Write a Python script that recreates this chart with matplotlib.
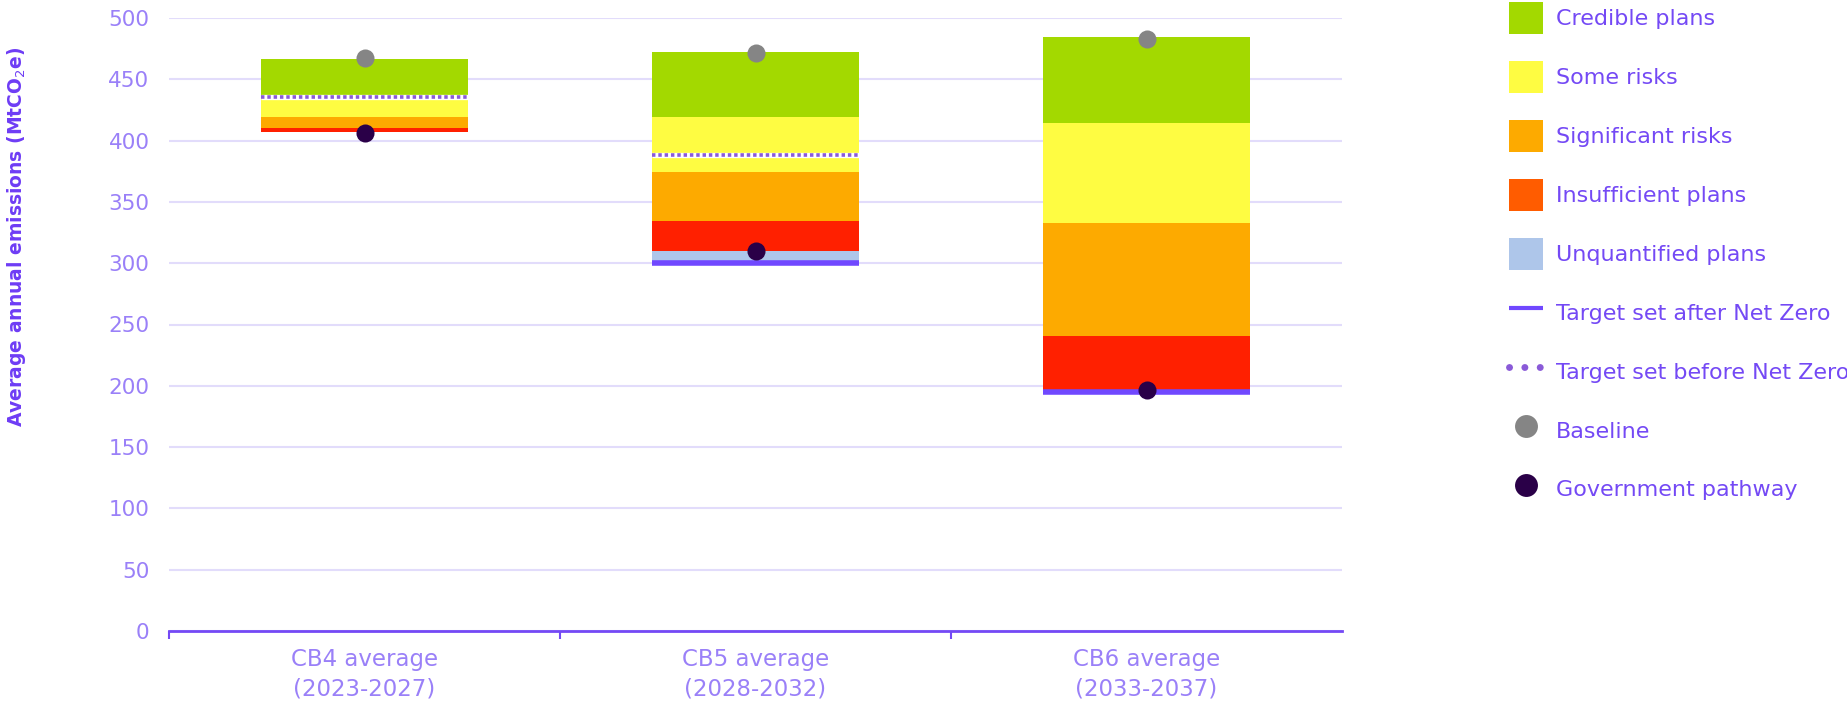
import numpy as np
import matplotlib
matplotlib.use("Agg")
import matplotlib.pyplot as plt
from matplotlib.patches import Patch
from matplotlib.lines import Line2D

# ---------------- data ----------------
categories = ["CB4 average\n(2023-2027)", "CB5 average\n(2028-2032)", "CB6 average\n(2033-2037)"]
stack_base = [406.8, 300.0, 195.0]
unquantified = [0.0, 9.8, 0.0]
insufficient = [3.3, 24.3, 45.7]
significant = [9.1, 40.3, 91.9]
some_risks = [17.0, 45.0, 82.0]
credible = [30.5, 53.2, 69.6]
target_after_nz = [np.nan, 300.0, 195.0]
target_before_nz = [435.3, 388.0, np.nan]
baseline = [467.3, 471.8, 482.6]
gov_pathway = [406.3, 309.8, 196.7]
yticks = [0, 50, 100, 150, 200, 250, 300, 350, 400, 450, 500]

series_names = ["Unquantified plans", "Insufficient plans", "Significant risks", "Some risks", "Credible plans"]
series_vals = [unquantified, insufficient, significant, some_risks, credible]
bar_colors = ["#aec6ea", "#ff2000", "#fdaa00", "#fefc42", "#a3d900"]
legend_colors = {"Credible plans": "#a3d900", "Some risks": "#fefc42",
                 "Significant risks": "#fdaa00", "Insufficient plans": "#ff5c00",
                 "Unquantified plans": "#aec6ea"}

PURPLE = "#7449f5"
LABEL_PURPLE = "#6e3cf5"
TICK_PURPLE = "#9a80f8"
LINE_PURPLE = "#7048ff"
DOT_PURPLE = "#8a5ad8"
GRID = "#e2dcfb"

fig = plt.figure(figsize=(18.47, 7.05), dpi=100)
ax = fig.add_axes([169/1847, 1-631/705, (1342-169)/1847, (631-18)/705])

x = np.arange(len(categories))
width = 0.53
bottom = np.array(stack_base, dtype=float)
for vals, col in zip(series_vals, bar_colors):
    v = np.array(vals, dtype=float)
    ax.bar(x, v, width, bottom=bottom, color=col, linewidth=0, zorder=2)
    bottom = bottom + v

for i in range(len(categories)):
    if not np.isnan(target_after_nz[i]):
        ax.plot([x[i]-width/2, x[i]+width/2], [target_after_nz[i]]*2, color=LINE_PURPLE,
                lw=4.0, solid_capstyle='butt', zorder=3)
    if not np.isnan(target_before_nz[i]):
        ax.plot([x[i]-width/2, x[i]+width/2], [target_before_nz[i]]*2, color="white",
                lw=3.8, solid_capstyle='butt', zorder=3)
        ax.plot([x[i]-width/2, x[i]+width/2], [target_before_nz[i]]*2, color=DOT_PURPLE,
                lw=2.6, linestyle=(0, (0.95, 0.8)), dash_capstyle='butt', zorder=4)

ax.plot(x, baseline, 'o', color="#858585", ms=13, mew=0, zorder=5)
ax.plot(x, gov_pathway, 'o', color="#2a0048", ms=13, mew=0, zorder=5)

ax.set_xlim(-0.5, 2.5)
ax.set_ylim(0, 500)
ax.set_yticks(yticks)
ax.set_yticklabels([str(t) for t in yticks])
ax.yaxis.grid(True, color=GRID, lw=1.5, zorder=0)
ax.set_axisbelow(True)
for s in ["left", "right", "top"]:
    ax.spines[s].set_visible(False)
ax.spines["bottom"].set_color(PURPLE)
ax.spines["bottom"].set_linewidth(2.0)
ax.spines["bottom"].set_zorder(6)
ax.tick_params(axis='y', length=0, pad=14, labelsize=15.5, labelcolor=TICK_PURPLE)
ax.set_xticks(x)
ax.set_xticklabels(categories, fontsize=16.5, color=TICK_PURPLE, linespacing=1.4)
ax.tick_params(axis='x', which='major', length=0, pad=12)
ax.set_xticks([-0.5, 0.5, 1.5], minor=True)
ax.tick_params(axis='x', which='minor', length=6, width=1.5, color=PURPLE, direction='out')

fig.text(17/1847, 1-237/705, "Average annual emissions (MtCO$_2$e)", rotation=90,
         ha='center', va='center', fontsize=13.5, fontweight='bold', color=LABEL_PURPLE)

handles = []
labels = ["Credible plans", "Some risks", "Significant risks", "Insufficient plans", "Unquantified plans"]
for lab in labels:
    handles.append(Patch(facecolor=legend_colors[lab], edgecolor='none'))
handles.append(Line2D([], [], color=LINE_PURPLE, lw=3.0, solid_capstyle='butt'))
handles.append(Line2D([], [], color=DOT_PURPLE, lw=5.0, dashes=(0.01, 2.2), dash_capstyle='round'))
handles.append(Line2D([], [], marker='o', ls='', color="#858585", ms=16.5, mew=0))
handles.append(Line2D([], [], marker='o', ls='', color="#2a0048", ms=16.5, mew=0))
labels = labels + ["Target set after Net Zero", "Target set before Net Zero", "Baseline", "Government pathway"]

fs = 16
leg = fig.legend(handles, labels, loc='upper left', bbox_to_anchor=(1509/1847, 1 - 2/705),
                 frameon=False, fontsize=fs, borderpad=0, borderaxespad=0,
                 handlelength=1.53, handleheight=1.84, labelspacing=1.21, handletextpad=0.59)
for t in leg.get_texts():
    t.set_color(PURPLE)

fig.savefig("out.png", dpi=100)
